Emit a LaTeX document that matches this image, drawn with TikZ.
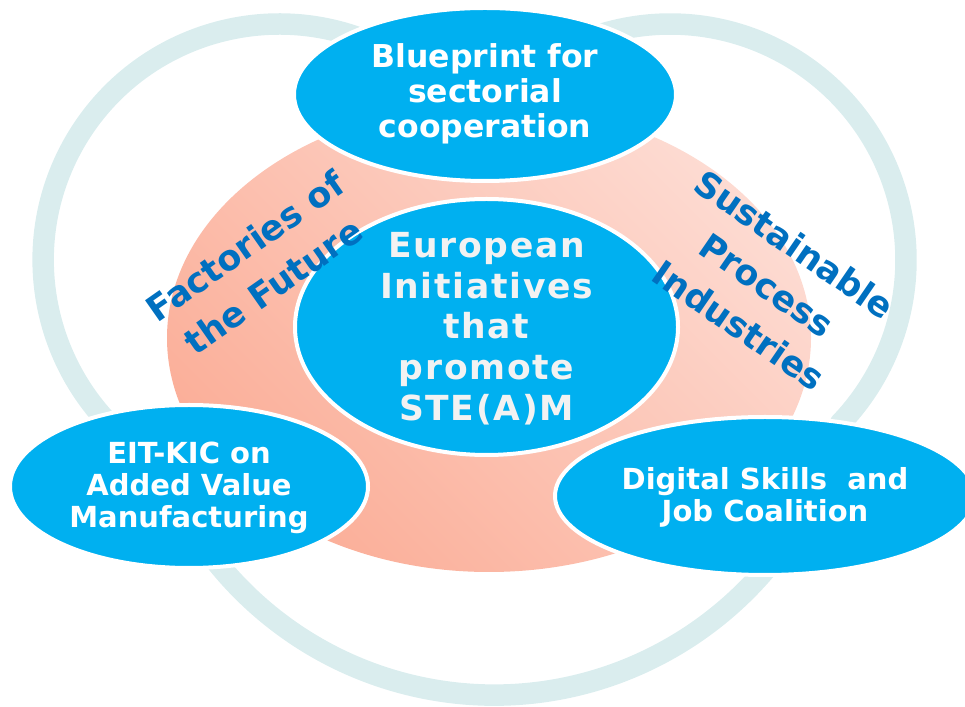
\documentclass[tikz,border=0pt]{standalone}
\usepackage{fontspec}
\setsansfont{DejaVu Sans}
\newfontfamily\hubfont[LetterSpace=5]{DejaVu Sans}
\usetikzlibrary{shapes.geometric}
\definecolor{ringblue}{HTML}{DAEDEE}
\definecolor{bubbleblue}{HTML}{00B0F0}
\definecolor{tagblue}{HTML}{0070C0}
\definecolor{salmondark}{HTML}{FBAE98}
\definecolor{salmonlight}{HTML}{FDDBD2}
\definecolor{hubgrey}{HTML}{F2F2F2}
\tikzset{
  ring/.style={draw=ringblue,line width=21.5pt,line join=round},
  core/.style={ellipse,inner sep=0pt,top color=salmonlight,bottom color=salmondark,shading angle=-45},
  bubble/.style={ellipse,draw=white,line width=4pt,fill=bubbleblue,inner sep=0pt},
  bubtext/.style={text=white,align=center,font=\sffamily\bfseries\fontsize{29}{32}\selectfont},
  tag/.style={text=tagblue,align=center,font=\sffamily\bfseries\fontsize{35}{49}\selectfont}
}

\begin{document}
\begin{tikzpicture}[x=1pt,y=1pt]
  \useasboundingbox (0,0) rectangle (965,706);

  \draw[ring] (160.8,241.8) arc[start angle=239.9,end angle=34.1,radius=236]
    arc[start angle=145.9,end angle=-44.0,radius=236]
    arc[start angle=-13.8,end angle=-159.4,radius=356] -- cycle;

  \node[core,minimum width=644,minimum height=468] (core) at (489,368) {};

  \node[bubble,minimum width=382,minimum height=173] (bp) at (485,611.5) {};
  \node[bubble,minimum width=358,minimum height=163] (eit) at (189,219.5) {};
  \node[bubble,minimum width=420,minimum height=158] (dsj) at (765,210) {};
  \node[bubble,minimum width=383,minimum height=256] (hub) at (486.5,379) {};

  \node[bubtext,font=\sffamily\bfseries\fontsize{31.5}{35}\selectfont] (bpt) at (485,611.7)
    {Blueprint for\\sectorial\\cooperation};
  \node[bubtext] (eitt) at (189,218.5) {EIT-KIC on\\Added Value\\Manufacturing};
  \node[bubtext] (dsjt) at (765,209) {Digital Skills~ and\\Job Coalition};
  \node[bubtext,text=hubgrey,font=\hubfont\bfseries\fontsize{34.5}{40.75}\selectfont] (hubt)
    at (486.5,377.5) {European\\Initiatives\\that\\promote\\STE(A)M};

  \node[tag,rotate=35] (fof) at (259,440) {Factories of\\the Future};
  \node[tag,rotate=-34.5] (spi) at (767,421) {Sustainable\\Process\\Industries};
\end{tikzpicture}
\end{document}
